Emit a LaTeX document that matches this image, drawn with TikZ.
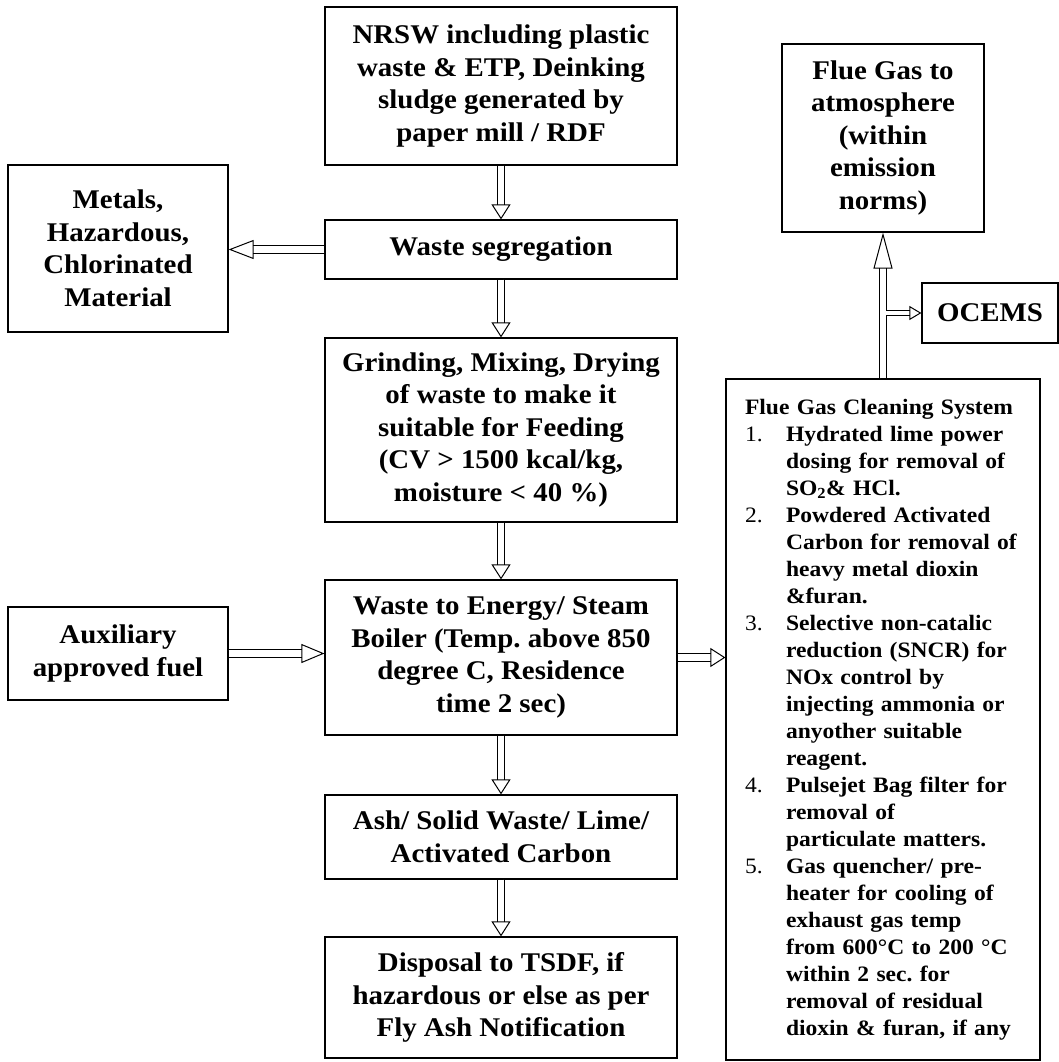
\documentclass[tikz,border=0pt]{standalone}
\usepackage{fontspec}
\setmainfont{Liberation Serif}[FakeStretch=1.07]
\usetikzlibrary{arrows.meta}
\frenchspacing

\tikzset{
    box/.style={draw, line width=1.2pt, align=center, inner sep=0pt, font=\fontsize{27}{32.5}\selectfont\bfseries},
    mainbox/.style={box, minimum width=352pt},
    sidebox/.style={box, minimum width=220pt},
    fgcbox/.style={draw, line width=1.2pt, align=left, text width=276pt, inner xsep=19pt, inner ysep=0pt, minimum height=681pt, font=\fontsize{22}{27}\selectfont\bfseries},
    flow/.style={double, double distance=6.5pt, line width=1pt, -{Triangle[open, length=#1, width=19pt, line width=1pt]}},
    flow/.default=15pt,
    smallflow/.style={double, double distance=4.5pt, line width=1pt, -{Triangle[open, length=12pt, width=14pt, line width=1pt]}}
}

\begin{document}
\begin{tikzpicture}[x=1pt, y=-1pt]
            \useasboundingbox (0,0) rectangle (1059,1062);

            \node[mainbox, minimum height=158pt] (nrsw) at (501,86) {NRSW including plastic\\waste \& ETP, Deinking\\sludge generated by\\paper mill / RDF};
            \node[mainbox, minimum height=59pt] (seg) at (501,249.5) {Waste segregation};
            \node[sidebox, minimum height=167pt] (metals) at (118,248.5) {Metals,\\Hazardous,\\Chlorinated\\Material};
            \node[mainbox, minimum height=184pt] (grind) at (501,430) {Grinding, Mixing, Drying\\of waste to make it\\suitable for Feeding\\(CV > 1500 kcal/kg,\\moisture < 40 \%)};
            \node[mainbox, minimum height=155pt] (boiler) at (501,657.5) {Waste to Energy/ Steam\\Boiler (Temp. above 850\\degree C, Residence\\time 2 sec)};
            \node[sidebox, minimum height=93pt] (aux) at (118,653.5) {Auxiliary\\approved fuel};
            \node[mainbox, minimum height=84pt] (ash) at (501,837) {Ash/ Solid Waste/ Lime/\\Activated Carbon};
            \node[mainbox, minimum height=121pt] (tsdf) at (501,997.5) {Disposal to TSDF, if\\hazardous or else as per\\Fly Ash Notification};
            \node[box, minimum width=202pt, minimum height=188pt] (flue) at (883,138) {Flue Gas to\\atmosphere\\(within\\emission\\norms)};
            \node[box, minimum width=136pt, minimum height=60pt] (ocems) at (990,313) {OCEMS};
            \node[fgcbox] (fgc) at (883,719.5) {%
                \begin{tabular}{@{}p{41pt}@{}l@{}}
                \multicolumn{2}{@{}l@{}}{Flue Gas Cleaning System}\\
                {\mdseries 1.} & Hydrated lime power\\
                & dosing for removal of\\
                & SO\textsubscript{2}\& HCl.\\
                {\mdseries 2.} & Powdered Activated\\
                & Carbon for removal of\\
                & heavy metal dioxin\\
                & \&furan.\\
                {\mdseries 3.} & Selective non-catalic\\
                & reduction (SNCR) for\\
                & NOx control by\\
                & injecting ammonia or\\
                & anyother suitable\\
                & reagent.\\
                {\mdseries 4.} & Pulsejet Bag filter for\\
                & removal of\\
                & particulate matters.\\
                {\mdseries 5.} & Gas quencher/ pre-\\
                & heater for cooling of\\
                & exhaust gas temp\\
                & from 600°C to 200 °C\\
                & within 2 sec. for\\
                & removal of residual\\
                & dioxin \& furan, if any
                \end{tabular}};
            \coordinate (tap) at (fgc.north |- ocems.west);

            \draw[flow] (nrsw) to (seg); \draw[flow] (seg) to (grind); \draw[flow] (grind) to (boiler);
            \draw[flow] (boiler) to (ash); \draw[flow] (ash) to (tsdf);
            \draw[flow=25pt] (seg.west) to (seg.west -| metals.east);
            \draw[flow=23pt] (aux.east) to (aux.east -| boiler.west);
            \draw[flow] (boiler.east) to (boiler.east -| fgc.west);
            \draw[flow=36pt] (fgc) to (flue);
            \draw[smallflow] ([xshift=3.25pt]tap) to (ocems.west);
        \end{tikzpicture}
\end{document}
